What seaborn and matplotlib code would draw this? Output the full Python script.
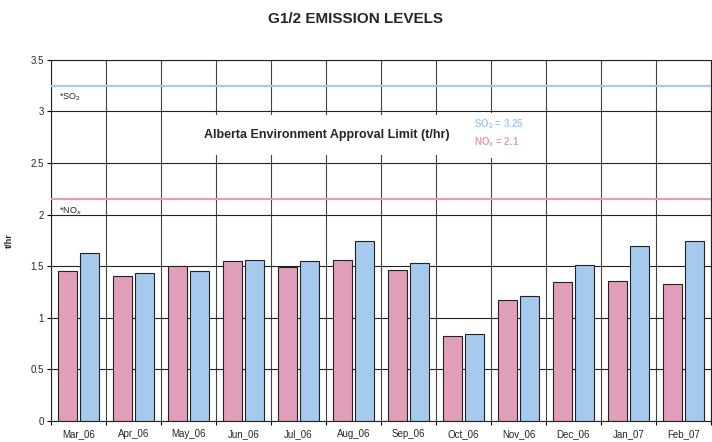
import matplotlib.pyplot as plt
import seaborn as sns
import numpy as np
import pandas as pd

months = ['Mar_06', 'Apr_06', 'May_06', 'Jun_06', 'Jul_06', 'Aug_06',
          'Sep_06', 'Oct_06', 'Nov_06', 'Dec_06', 'Jan_07', 'Feb_07']
nox = [1.45, 1.41, 1.50, 1.55, 1.49, 1.56, 1.46, 0.82, 1.17, 1.35, 1.36, 1.33]
so2 = [1.63, 1.43, 1.45, 1.56, 1.55, 1.74, 1.53, 0.84, 1.21, 1.51, 1.70, 1.74]
so2_limit = 3.25
nox_limit = 2.15  # line sits a bit above the 2.1 quoted in the label
y_ticks = [0, 0.5, 1, 1.5, 2, 2.5, 3, 3.5]

pink = '#E09EBA'
blue = '#A6C9EE'

sns.set_style('white')
plt.rcParams['font.family'] = ['Liberation Sans', 'DejaVu Sans']
plt.rcParams['mathtext.fontset'] = 'custom'
plt.rcParams['mathtext.rm'] = 'Liberation Sans'
plt.rcParams['mathtext.bf'] = 'Liberation Sans:bold'

df = pd.DataFrame({
    'month': months * 2,
    'value': nox + so2,
    'gas': ['NOx'] * len(months) + ['SO2'] * len(months),
})

fig = plt.figure(figsize=(7.12, 4.42), dpi=100)
ax = fig.add_axes([0.0716, 0.0475, 0.927, 0.817])

sns.barplot(data=df, x='month', y='value', hue='gas', palette=[pink, blue],
            saturation=1, width=0.8, gap=0.1, edgecolor='#222222', linewidth=0.8,
            legend=False, ax=ax)

ax.set_xlim(-0.5, len(months) - 0.5)
ax.set_ylim(0, 3.5)
ax.set_yticks(y_ticks)
ax.set_yticklabels([f'{v:g}' for v in y_ticks])
ax.set_xticks(np.arange(-0.5, len(months), 1), minor=True)
ax.set_axisbelow(True)
ax.yaxis.grid(True, color='#222222', lw=0.8)
ax.xaxis.grid(True, which='minor', color='#444444', lw=0.8)
ax.tick_params(axis='x', which='major', length=0, labelsize=7, pad=6)
ax.tick_params(axis='x', which='minor', length=3, width=0.8, color='black',
               direction='out', bottom=True)
ax.tick_params(axis='y', length=3, width=0.8, color='black', direction='out',
               labelsize=7, pad=2, left=True)
for s in ax.spines.values():
    s.set_color('#222222')
    s.set_linewidth(0.8)

ax.set_xlabel('')
ax.set_ylabel('t/hr', fontsize=6.5, fontweight='bold')
ax.yaxis.set_label_coords(-0.056, 0.5)

# approval limit lines
ax.axhline(so2_limit, color=blue, lw=1.6, zorder=3)
ax.axhline(nox_limit, color=pink, lw=1.6, zorder=3)
ax.text(-0.35, 3.14, r'*SO$_2$', fontsize=6.5, va='center', ha='left')
ax.text(-0.35, 2.03, r'*NO$_x$', fontsize=6.5, va='center', ha='left')

ax.text(4.52, 2.77, 'Alberta Environment Approval Limit (t/hr)', fontsize=9,
        fontweight='bold', ha='center', va='center', zorder=4,
        bbox=dict(facecolor='white', edgecolor='none', pad=10))
ax.text(7.2, 2.70, r'NO$_\mathbf{x}$ = 2.1', fontsize=7, fontweight='bold', color=pink,
        ha='left', va='center', zorder=5,
        bbox=dict(facecolor='white', edgecolor='none', pad=6))
ax.text(7.2, 2.88, r'SO$_\mathbf{2}$ = 3.25', fontsize=7, fontweight='bold', color=blue,
        ha='left', va='center', zorder=6,
        bbox=dict(facecolor='white', edgecolor='none', pad=2.5))

fig.text(0.5, 0.958, 'G1/2 EMISSION LEVELS', fontsize=11, fontweight='bold',
         ha='center', va='center')

fig.savefig('out.png', dpi=100)
